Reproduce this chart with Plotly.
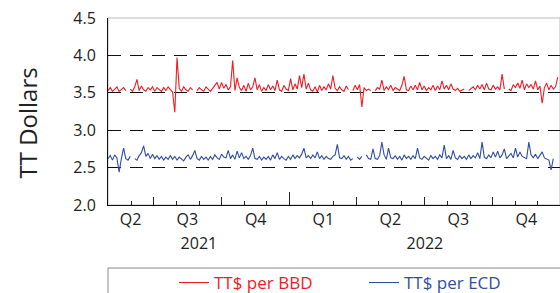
import pandas as pd
import plotly.graph_objects as go

start = "2021-05-01"
end = "2022-12-31"

# TT$ per BBD (sampled every 3 days from 2021-05-01)
bbd = [
    3.53, 3.57, 3.52, 3.55, 3.58, 3.52, 3.54, 3.57, 3.53, None,
    3.55, 3.52, 3.58, 3.68, 3.53, 3.59, 3.54, 3.52, 3.57, 3.54,
    3.58, 3.52, 3.57, 3.54, 3.52, 3.57, 3.53, 3.58, 3.55, 3.51,
    3.24, 3.97, 3.56, 3.52, 3.58, 3.54, 3.52, 3.57, 3.54, None,
    3.53, 3.57, 3.54, 3.52, 3.58, 3.55, 3.52, 3.56, 3.60, 3.64,
    3.55, 3.64, 3.56, 3.61, 3.54, 3.58, 3.93, 3.53, 3.70, 3.57,
    3.53, 3.60, 3.52, 3.63, 3.54, 3.58, 3.70, 3.54, 3.61, 3.52,
    3.57, 3.53, 3.61, 3.54, 3.59, 3.53, 3.67, 3.54, 3.52, 3.60,
    3.55, 3.53, 3.69, 3.54, 3.62, 3.55, 3.73, 3.57, 3.75, 3.55,
    3.63, 3.54, 3.52, 3.58, 3.51, 3.60, 3.53, 3.58, 3.54, 3.62,
    3.55, 3.73, 3.56, 3.53, 3.58, 3.54, 3.52, 3.59, 3.54, None,
    3.53, 3.60, 3.54, 3.61, 3.31, 3.57, 3.53, 3.55, 3.53, None,
    3.53, 3.57, 3.55, 3.67, 3.53, 3.58, 3.54, 3.60, 3.53, 3.57,
    3.55, 3.53, 3.60, 3.72, 3.54, 3.53, 3.59, 3.54, 3.60, 3.54,
    3.64, 3.54, 3.59, 3.53, 3.57, 3.54, 3.60, 3.53, 3.59, 3.54,
    3.66, 3.55, 3.60, 3.54, 3.62, 3.55, 3.53, 3.56, 3.52, 3.54,
    3.55, None, 3.53, 3.56, 3.58, 3.54, 3.60, 3.55, 3.61, 3.54,
    3.63, 3.55, 3.54, 3.60, 3.55, 3.58, 3.54, 3.75, 3.55, None,
    3.55, 3.53, 3.61, 3.57, 3.63, 3.56, 3.67, 3.54, 3.62, 3.57,
    3.61, 3.55, 3.66, 3.54, 3.59, 3.36, 3.57, 3.63, 3.54, 3.60,
    3.55, 3.58, 3.71,
]

# TT$ per ECD (sampled every 3 days from 2021-05-01)
ecd = [
    2.62, 2.66, 2.60, 2.67, 2.63, 2.44, 2.62, 2.76, 2.62, 2.60,
    2.65, None, 2.62, 2.60, 2.66, 2.70, 2.79, 2.65, 2.69, 2.62,
    2.68, 2.62, 2.66, 2.61, 2.65, 2.60, 2.64, 2.61, 2.66, 2.61,
    2.65, 2.60, 2.64, 2.61, 2.59, 2.64, 2.67, 2.61, 2.66, 2.73,
    2.62, 2.60, 2.65, 2.61, 2.64, 2.60, 2.65, 2.61, 2.67, 2.63,
    2.61, 2.68, 2.64, 2.63, 2.73, 2.62, 2.67, 2.61, 2.72, 2.63,
    2.70, 2.62, 2.65, 2.61, 2.66, 2.76, 2.62, 2.61, 2.65, 2.60,
    2.64, 2.61, 2.65, 2.60, 2.67, 2.62, 2.70, 2.61, 2.65, 2.62,
    2.60, 2.65, 2.61, 2.67, 2.62, 2.66, 2.63, 2.68, 2.76, 2.63,
    2.66, 2.62, 2.67, 2.63, 2.71, 2.62, 2.66, 2.61, 2.65, 2.62,
    2.61, 2.65, 2.67, 2.81, 2.63, 2.62, 2.66, 2.61, 2.65, 2.60,
    2.62, None, 2.64, 2.61, 2.65, None, 2.67, 2.62, 2.61, 2.75,
    2.62, 2.61, 2.66, 2.84, 2.67, 2.61, 2.76, 2.63, 2.62, 2.66,
    2.61, 2.65, 2.60, 2.67, 2.62, 2.65, 2.61, 2.66, 2.62, 2.76,
    2.63, 2.61, 2.65, 2.62, 2.60, 2.66, 2.62, 2.65, 2.61, 2.67,
    2.63, 2.80, 2.62, 2.66, 2.61, 2.73, 2.63, 2.61, 2.66, 2.62,
    2.65, 2.61, 2.67, 2.62, 2.66, 2.63, 2.70, 2.62, 2.84, 2.64,
    2.62, 2.67, 2.63, 2.71, 2.64, 2.72, 2.63, 2.67, 2.75, 2.62,
    2.66, 2.69, 2.63, 2.76, 2.64, 2.71, 2.65, 2.63, 2.62, 2.84,
    2.67, 2.63, 2.68, 2.62, 2.66, 2.71, 2.63, 2.61, 2.60, 2.47,
    2.62, None, 2.63,
]

dates = pd.date_range(start, periods=len(bbd), freq="3D")

y_ticks = [2.0, 2.5, 3.0, 3.5, 4.0, 4.5]
quarter_starts = ["2021-04-01", "2021-07-01", "2021-10-01", "2022-01-01",
                  "2022-04-01", "2022-07-01", "2022-10-01"]
quarter_labels = ["Q2", "Q3", "Q4", "Q1", "Q2", "Q3", "Q4"]
year_starts = ["2021-01-01", "2022-01-01"]
year_labels = ["2021", "2022"]

RED = "#ee1c25"
BLUE = "#2f4ea3"
FONT = "Open Sans"

t0, t1 = pd.Timestamp(start), pd.Timestamp(end)


def clipped_mid(a, b):
    lo, hi = max(a, t0), min(b, t1)
    return lo + (hi - lo) / 2


q_mids = [clipped_mid(pd.Timestamp(q), pd.Timestamp(q) + pd.DateOffset(months=3)) for q in quarter_starts]
y_mids = [clipped_mid(pd.Timestamp(y), pd.Timestamp(y) + pd.DateOffset(years=1)) for y in year_starts]
q_ticks = [pd.Timestamp(q) for q in quarter_starts if t0 < pd.Timestamp(q) < t1]
yr_ticks = [pd.Timestamp(y) for y in year_starts if t0 < pd.Timestamp(y) < t1]

fig = go.Figure()
fig.add_trace(go.Scatter(x=dates, y=bbd, mode="lines", line=dict(color=RED, width=1.1),
                         name=f'<span style="color:{RED}">TT$ per BBD</span>', connectgaps=False))
fig.add_trace(go.Scatter(x=dates, y=ecd, mode="lines", line=dict(color=BLUE, width=1.1),
                         name=f'<span style="color:{BLUE}">TT$ per ECD</span>', connectgaps=False))
for ax in ["x2", "x3", "x4", "x5"]:
    fig.add_trace(go.Scatter(x=[], y=[], xaxis=ax, yaxis="y", showlegend=False, hoverinfo="skip"))

common = dict(type="date", range=[start, end], showgrid=False, zeroline=False, automargin=False)
fig.update_layout(
    width=560, height=293,
    margin=dict(l=108, r=0, t=18, b=88, autoexpand=False),
    plot_bgcolor="white", paper_bgcolor="white",
    font=dict(family=FONT, color="#222222"),
    xaxis=dict(**common, ticks="inside", dtick="M1", tick0="2021-01-01", ticklen=4,
               tickcolor="#222", tickwidth=1, showticklabels=False,
               showline=True, linecolor="#111", linewidth=1),
    xaxis2=dict(**common, overlaying="x", anchor="y", ticks="inside", tickvals=q_ticks,
                ticklen=8, tickcolor="#222", showticklabels=False, showline=False),
    xaxis3=dict(**common, overlaying="x", anchor="y", ticks="inside", tickvals=yr_ticks,
                ticklen=13, tickcolor="#222", showticklabels=False, showline=False),
    xaxis4=dict(**common, overlaying="x", anchor="y", ticks="", tickvals=q_mids,
                ticktext=quarter_labels, tickfont=dict(size=16, color="#222"),
                ticklabelstandoff=3, showline=False),
    xaxis5=dict(**common, overlaying="x", anchor="y", ticks="", tickvals=y_mids,
                ticktext=year_labels, tickfont=dict(size=16, color="#222"),
                ticklabelstandoff=27, showline=False),
    yaxis=dict(range=[2, 4.5], tickvals=y_ticks, ticktext=[f"{v:.1f}" for v in y_ticks],
               showgrid=True, gridcolor="#111", griddash="13px,9px", gridwidth=1,
               showline=True, linecolor="#111", linewidth=1, ticks="", zeroline=False,
               automargin=False,
               tickfont=dict(size=16, color="#222"), ticklabelstandoff=8),
    legend=dict(orientation="h", x=0.146, y=-0.417, xanchor="left", yanchor="middle",
                font=dict(size=17), entrywidth=145, bgcolor="rgba(0,0,0,0)"),
    annotations=[dict(text="TT Dollars", textangle=-90, x=-0.177, y=0.441,
                      xanchor="center", yanchor="middle",
                      xref="paper", yref="paper", showarrow=False,
                      font=dict(size=24, color="#222"))],
    shapes=[
        dict(type="rect", xref="paper", yref="paper", x0=0, x1=1, y0=0, y1=1,
             line=dict(color="#bbbbbb", width=1), layer="below"),
        dict(type="rect", xref="paper", yref="paper", x0=0, x1=1.2, y0=-0.337, y1=-0.6,
             line=dict(color="#888888", width=1), layer="below"),
    ],
)

fig.write_html(
    "out.html",
    config={"displayModeBar": False},
    post_script="document.body.style.margin='0';document.body.style.overflow='hidden';"
                "document.documentElement.style.overflow='hidden';",
)
